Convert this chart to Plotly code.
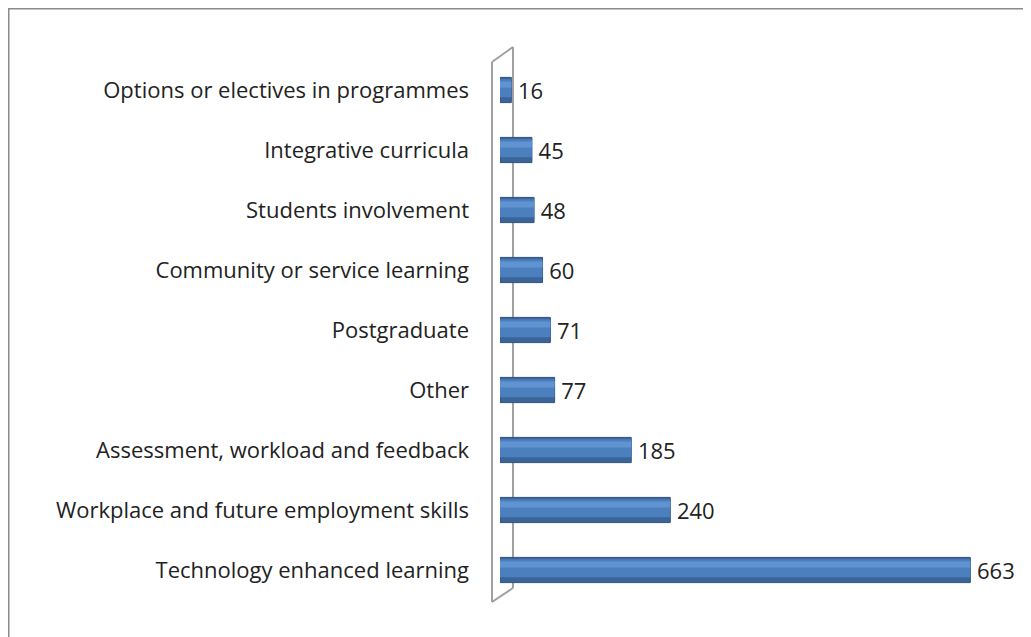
import plotly.graph_objects as go

categories = [
    "Technology enhanced learning",
    "Workplace and future employment skills",
    "Assessment, workload and feedback",
    "Other",
    "Postgraduate",
    "Community or service learning",
    "Students involvement",
    "Integrative curricula",
    "Options or electives in programmes",
]
values = [663, 240, 185, 77, 71, 60, 48, 45, 16]

# page body has an 8px margin: figure origin is at screen (8, 8)
OFF = 8
W, H = 1031 - OFF, 637 - OFF
ML, MT = 500 - OFF, 60 - OFF
MR = W - (1020 - OFF)
MB = H - (600 - OFF)
PW, PH = W - ML - MR, H - MT - MB
FONT = "Open Sans"
FS = 22

fig = go.Figure()
fig.add_trace(go.Bar(
    y=categories, x=values, orientation="h", width=0.42,
    marker=dict(color="#3B6598", line=dict(color="#2F5282", width=1)),
    text=["\u2009" + str(v) for v in values], textposition="outside",
    constraintext="none",
    textfont=dict(family=FONT, size=FS, color="#222"),
    cliponaxis=False, hoverinfo="skip",
))
fig.add_trace(go.Bar(
    y=categories, x=values, orientation="h", width=0.3, offset=-0.12,
    marker=dict(color="#4C7FBE", line=dict(width=0)),
    hoverinfo="skip",
))
fig.add_trace(go.Bar(
    y=categories, x=values, orientation="h", width=0.1, offset=0.04,
    marker=dict(color="#5F93D2", line=dict(width=0)),
    hoverinfo="skip",
))

def px(x):
    return (x - OFF - ML) / PW

def py(y):
    return (H - MB - (y - OFF)) / PH

gray = "#A0A0A0"
shapes = []
# side wall (3D depth)
for (x0, y0, x1, y1) in [(492, 62, 492, 602), (513, 47, 513, 588),
                         (492, 62, 513, 47), (492, 602, 513, 588)]:
    shapes.append(dict(type="line", xref="paper", yref="paper",
                       x0=px(x0), y0=py(y0), x1=px(x1), y1=py(y1),
                       line=dict(color=gray, width=2), layer="below"))
# outer border
shapes.append(dict(type="rect", xref="paper", yref="paper",
                   x0=px(8.5), y0=py(8.5), x1=px(1060), y1=py(660),
                   line=dict(color="#8A8A8A", width=2), fillcolor="rgba(0,0,0,0)"))

fig.update_layout(
    width=W, height=H,
    margin=dict(l=ML, r=MR, t=MT, b=MB),
    barmode="overlay",
    showlegend=False,
    paper_bgcolor="white", plot_bgcolor="white",
    shapes=shapes,
    xaxis=dict(range=[0, 733], visible=False, showgrid=False, zeroline=False),
    yaxis=dict(categoryorder="array", categoryarray=categories,
               range=[-0.5, 8.5], showgrid=False, zeroline=False, showline=False,
               ticks="", ticklabelstandoff=30,
               tickfont=dict(family=FONT, size=FS, color="#222")),
)
fig.write_html("out.html")
